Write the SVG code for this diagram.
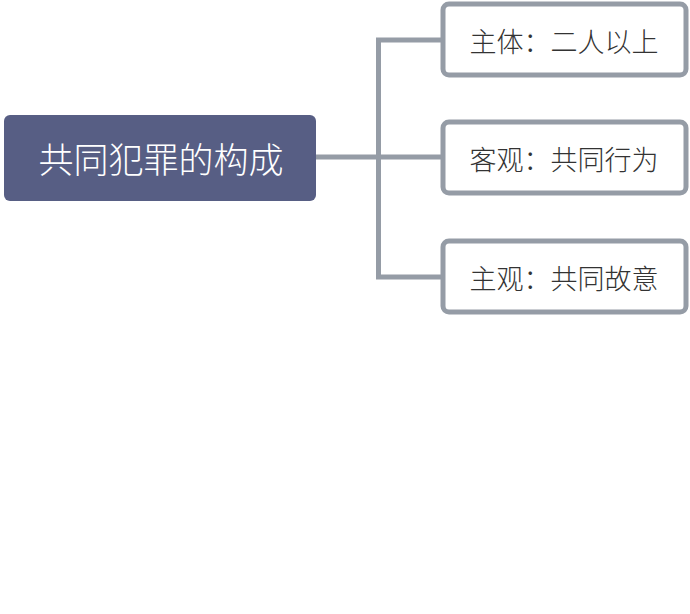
<svg xmlns="http://www.w3.org/2000/svg" width="690" height="614" viewBox="0 0 690 614">
<style>
.conn{fill:none;stroke:#959ca6;stroke-width:5;stroke-linejoin:miter}
.child rect{fill:#fff;stroke:#959ca6;stroke-width:5}
.child text{font-family:"Noto Sans CJK SC","Noto Sans",sans-serif;font-size:27px;font-weight:300;fill:#333;text-anchor:middle;dominant-baseline:central}
.root rect{fill:#575e84}
.root text{font-family:"Noto Sans CJK SC","Noto Sans",sans-serif;font-size:35px;font-weight:300;fill:#fff;text-anchor:middle;dominant-baseline:central}
</style>
<rect width="690" height="614" fill="#fff"/>
<g id="connectors">
<path class="conn" d="M316 157 H378.5"/>
<path class="conn" d="M443 40 H378.5 V277 H443"/>
<path class="conn" d="M378.5 157 H443"/>
</g>
<g id="root" class="root">
<rect x="4" y="115" width="312" height="86" rx="6"/>
<text x="161" y="157">共同犯罪的构成</text>
</g>
<g id="n1" class="child">
<rect x="443" y="4" width="243" height="71" rx="6"/>
<text x="564" y="40">主体：二人以上</text>
</g>
<g id="n2" class="child">
<rect x="443" y="122" width="243" height="71" rx="6"/>
<text x="564" y="158">客观：共同行为</text>
</g>
<g id="n3" class="child">
<rect x="443" y="241" width="243" height="71" rx="6"/>
<text x="564" y="277">主观：共同故意</text>
</g>
</svg>
